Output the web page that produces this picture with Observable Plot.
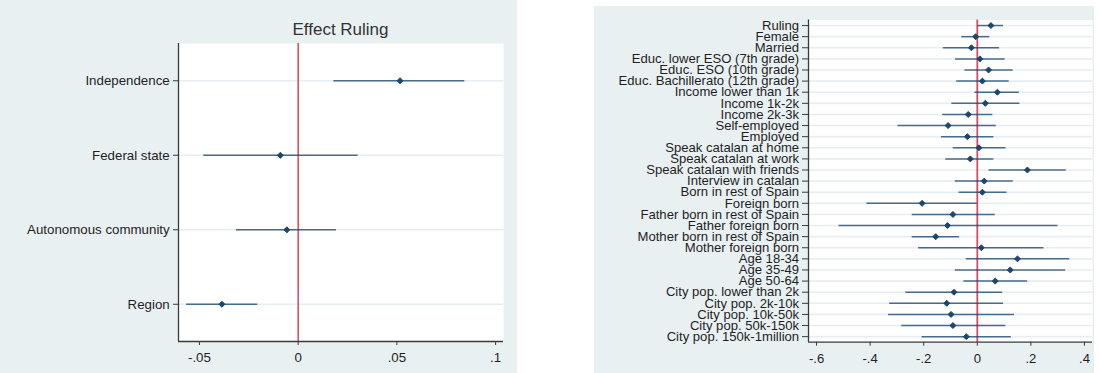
<!DOCTYPE html>
<html>
<head>
<meta charset="utf-8">
<script src="https://cdn.jsdelivr.net/npm/d3@7"></script>
<script src="https://cdn.jsdelivr.net/npm/@observablehq/plot@0.6"></script>
<style>
  html, body { margin: 0; padding: 0; background: #ffffff; }
  #page { position: relative; width: 1099px; height: 373px; overflow: hidden;
          font-family: Arial, "Liberation Sans", sans-serif; }
  .panel { position: absolute; background: #e9f0f2; }
  #bgLeft { left: 0; top: 0; width: 517px; height: 373px; }
  #bgRight { left: 594px; top: 6px; width: 500px; height: 367px; }
  .chart { position: absolute; top: 0; }
  #chartLeft { left: 0; }
  #chartRight { left: 550px; }
  #title { position: absolute; left: 178px; width: 325px; top: 21px; text-align: center;
           font-size: 17px; line-height: 17px; color: #333333; }
</style>
</head>
<body>
<div id="page">
  <div class="panel" id="bgLeft"></div>
  <div class="panel" id="bgRight"></div>
  <div class="chart" id="chartLeft"></div>
  <div class="chart" id="chartRight"></div>
  <div id="title">Effect Ruling</div>
</div>
<script>
// Effect of the ruling on preferred territorial status
const statusLabels = ["Independence", "Federal state", "Autonomous community", "Region"];
const statusEst = [0.0516, -0.0090, -0.0057, -0.0386];
const statusLo  = [0.0181, -0.0478, -0.0313, -0.0565];
const statusHi  = [0.0844,  0.0304,  0.0194, -0.0204];
const statusTicks = [-0.05, 0, 0.05, 0.1];

// Covariate coefficients with confidence intervals
const covLabels = [
  "Ruling", "Female", "Married", "Educ. lower ESO (7th grade)", "Educ. ESO (10th grade)",
  "Educ. Bachillerato (12th grade)", "Income lower than 1k", "Income 1k-2k", "Income 2k-3k",
  "Self-employed", "Employed", "Speak catalan at home", "Speak catalan at work",
  "Speak catalan with friends", "Interview in catalan", "Born in rest of Spain", "Foreign born",
  "Father born in rest of Spain", "Father foreign born", "Mother born in rest of Spain",
  "Mother foreign born", "Age 18-34", "Age 35-49", "Age 50-64", "City pop. lower than 2k",
  "City pop. 2k-10k", "City pop. 10k-50k", "City pop. 50k-150k", "City pop. 150k-1million"
];
const covEst = [0.051, -0.006, -0.022, 0.010, 0.042, 0.019, 0.075, 0.030, -0.034, -0.109,
  -0.037, 0.006, -0.026, 0.187, 0.026, 0.019, -0.206, -0.091, -0.111, -0.155, 0.015, 0.150,
  0.123, 0.067, -0.087, -0.114, -0.098, -0.091, -0.041];
const covLo = [0.002, -0.058, -0.127, -0.081, -0.046, -0.077, -0.009, -0.095, -0.129, -0.296,
  -0.134, -0.090, -0.118, 0.044, -0.082, -0.068, -0.412, -0.243, -0.516, -0.243, -0.219, -0.041,
  -0.082, -0.050, -0.267, -0.327, -0.331, -0.282, -0.206];
const covHi = [0.098, 0.047, 0.083, 0.104, 0.134, 0.119, 0.157, 0.159, 0.058, 0.071, 0.062,
  0.107, 0.062, 0.332, 0.134, 0.111, 0.000, 0.067, 0.301, -0.066, 0.249, 0.345, 0.330, 0.188,
  0.095, 0.098, 0.139, 0.107, 0.127];
const covTicks = [-0.6, -0.4, -0.2, 0, 0.2, 0.4];

// Stata-style numbers: no leading zero, plain hyphen
const fmt = d => d === 0 ? "0" : String(+d.toFixed(4)).replace(/^(-?)0\./, "$1.");

const navy = "#1a476f";
const axisColor = "#3a3a3a";

function coefPlot({labels, est, lo, hi, ticks, xDomain, width, height, margins, fontSize,
                   ySize, yPad, red, redWidth}) {
  const rows = labels.map((label, i) => ({i, label, est: est[i], lo: lo[i], hi: hi[i]}));
  const n = rows.length;
  const idx = d3.range(n);
  return Plot.plot({
    width, height,
    marginLeft: margins[0], marginRight: margins[1], marginTop: margins[2], marginBottom: margins[3],
    style: {background: "transparent", fontFamily: 'Arial, "Liberation Sans", sans-serif',
            fontSize: fontSize + "px", color: "#1e1e24", overflow: "visible"},
    x: {domain: xDomain},
    y: {type: "linear", domain: [n - 0.5, -0.5]},
    marks: [
      Plot.frame({fill: "white", stroke: "none"}),
      Plot.ruleY(idx, {y: d => d, stroke: "#e6eef1", strokeWidth: 1.6}),
      Plot.ruleX([0], {stroke: red, strokeWidth: redWidth}),
      Plot.ruleY(rows, {y: "i", x1: "lo", x2: "hi", stroke: navy, strokeWidth: 1.5, strokeOpacity: 0.78}),
      Plot.dot(rows, {x: "est", y: "i", symbol: "diamond2", r: 2.7, fill: navy, stroke: navy, strokeWidth: 1}),
      Plot.ruleX([xDomain[0]], {stroke: axisColor, strokeWidth: 1.3}),
      Plot.ruleY([n - 0.5], {stroke: axisColor, strokeWidth: 1.3}),
      Plot.axisY({ticks: idx, tickFormat: i => labels[i], tickSize: ySize, tickPadding: yPad,
                  stroke: axisColor, label: null}),
      Plot.axisX({ticks, tickFormat: fmt, tickSize: 4, tickPadding: 7, stroke: axisColor, label: null})
    ]
  });
}

document.getElementById("chartLeft").append(coefPlot({
  labels: statusLabels, est: statusEst, lo: statusLo, hi: statusHi, ticks: statusTicks,
  xDomain: [-0.0606, 0.1040], width: 517, height: 373, margins: [178, 14, 43, 32],
  fontSize: 13.3, ySize: 5, yPad: 3.8, red: "#c41e3a", redWidth: 1.2
}));

document.getElementById("chartRight").append(coefPlot({
  labels: covLabels, est: covEst, lo: covLo, hi: covHi, ticks: covTicks,
  xDomain: [-0.630, 0.430], width: 549, height: 373, margins: [258, 7, 19.5, 31.3],
  fontSize: 13.1, ySize: 6, yPad: 3.4, red: "#d94a66", redWidth: 1.8
}));
</script>
</body>
</html>
